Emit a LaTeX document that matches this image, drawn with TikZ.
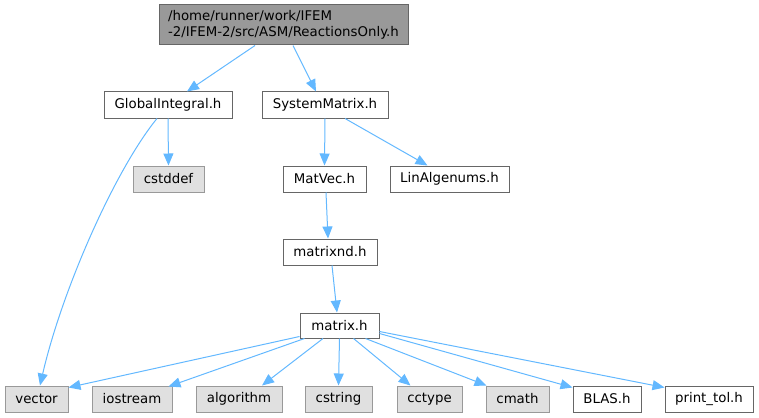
\documentclass[tikz,border=0pt]{standalone}
\usepackage{fontspec}
\setmainfont{DejaVu Sans}
\usetikzlibrary{arrows.meta}
\definecolor{edgeblue}{HTML}{63B8FF}
\definecolor{rootfill}{HTML}{999999}
\definecolor{rootdraw}{HTML}{666666}
\definecolor{sysfill}{HTML}{E0E0E0}
\definecolor{sysdraw}{HTML}{999999}
\definecolor{filedraw}{HTML}{666666}
\tikzset{
  box/.style={rectangle, inner sep=0pt, line width=1pt, font=\fontsize{13.33}{16}\selectfont, text=black},
  filebox/.style={box, draw=filedraw, fill=white},
  sysbox/.style={box, draw=sysdraw, fill=sysfill},
  rootbox/.style={box, draw=rootdraw, fill=rootfill},
  edge/.style={draw=edgeblue, line width=1pt, -{Triangle[length=12pt,width=10pt,fill=edgeblue]}}
}
\begin{document}
\begin{tikzpicture}[x=1pt,y=-1pt]
\useasboundingbox (0,0) rectangle (759,417);
% nodes
\node[rootbox, minimum width=249pt, minimum height=40pt, align=left] (root) at (283.5,25) {/home/runner/work/IFEM\\-2/IFEM-2/src/ASM/ReactionsOnly.h};
\node[filebox, minimum width=128pt, minimum height=26pt] (gi) at (168,105) {GlobalIntegral.h};
\node[filebox, minimum width=126pt, minimum height=26pt] (sm) at (325,105) {SystemMatrix.h};
\node[sysbox, minimum width=71pt, minimum height=26pt] (cstddef) at (168.5,179) {cstddef};
\node[filebox, minimum width=83pt, minimum height=26pt] (matvec) at (324.5,179) {MatVec.h};
\node[filebox, minimum width=119pt, minimum height=26pt] (linalg) at (449.5,179) {LinAlgenums.h};
\node[filebox, minimum width=94pt, minimum height=26pt] (matrixnd) at (330,252) {matrixnd.h};
\node[filebox, minimum width=79pt, minimum height=25pt] (matrix) at (339.5,325.5) {matrix.h};
\node[sysbox, minimum width=63pt, minimum height=26pt] (vector) at (36.5,399) {vector};
\node[sysbox, minimum width=80pt, minimum height=26pt] (iostream) at (132,399) {iostream};
\node[sysbox, minimum width=86pt, minimum height=26pt] (algorithm) at (239,399) {algorithm};
\node[sysbox, minimum width=67pt, minimum height=26pt] (cstring) at (338.5,399) {cstring};
\node[sysbox, minimum width=65pt, minimum height=26pt] (cctype) at (429.5,399) {cctype};
\node[sysbox, minimum width=63pt, minimum height=26pt] (cmath) at (517.5,399) {cmath};
\node[filebox, minimum width=68pt, minimum height=26pt] (blas) at (607,399) {BLAS.h};
\node[filebox, minimum width=88pt, minimum height=26pt] (printtol) at (709,399) {print\_tol.h};
% edges
\draw[edge] ([xshift=-28.5pt]root.south) -- ([xshift=19pt]gi.north);
\draw[edge] ([xshift=9.5pt]root.south) -- ([xshift=-9pt]sm.north);
\draw[edge] (gi.south) -- (cstddef.north);
\draw[edge] ([xshift=-11pt]gi.south) .. controls (115,170) and (62,290) .. ([xshift=3.5pt]vector.north);
\draw[edge] (sm.south) -- (matvec.north);
\draw[edge] ([xshift=20pt]sm.south) -- ([xshift=-22pt]linalg.north);
\draw[edge] ([xshift=1.5pt]matvec.south) -- ([xshift=-2pt]matrixnd.north);
\draw[edge] ([xshift=2pt]matrixnd.south) -- ([xshift=-2.5pt]matrix.north);
\draw[edge] ([yshift=-11pt]matrix.west) -- ([yshift=-2pt]vector.north east);
\draw[edge] ([xshift=5pt]matrix.south west) -- ([xshift=-4pt,yshift=-1pt]iostream.north east);
\draw[edge] ([xshift=-16.5pt]matrix.south) -- ([xshift=23pt]algorithm.north);
\draw[edge] (matrix.south) -- (cstring.north);
\draw[edge] ([xshift=14pt]matrix.south) -- ([xshift=-19pt]cctype.north);
\draw[edge] ([xshift=-14pt]matrix.south east) -- ([xshift=-31pt]cmath.north);
\draw[edge] ([yshift=-8pt]matrix.east) -- ([yshift=-2pt]blas.north west);
\draw[edge] ([yshift=-6pt]matrix.east) -- ([yshift=-2pt]printtol.north west);
\end{tikzpicture}
\end{document}
